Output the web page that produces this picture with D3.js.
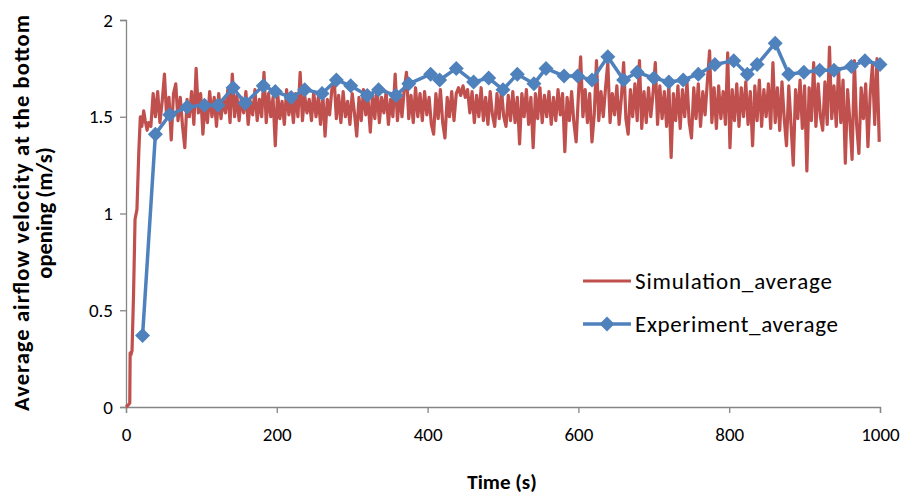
<!DOCTYPE html>
<html>
<head>
<meta charset="utf-8">
<script src="https://cdn.jsdelivr.net/npm/d3@7"></script>
<style>
  html, body { margin: 0; padding: 0; background: #ffffff; }
  svg { display: block; }
  text { font-family: Carlito, Calibri, Lato, "Open Sans", sans-serif; fill: #000; }
</style>
</head>
<body>
<svg id="chart" width="909" height="495"></svg>
<script>
// ---------- DATA ----------
const xTicks = [0, 200, 400, 600, 800, 1000];
const yTicks = [0, 0.5, 1, 1.5, 2];
const yTickLabels = ["0", "0.5", "1", "1.5", "2"];
const seriesNames = ["Simulation_average", "Experiment_average"];

// Experiment_average (time in s, velocity in m/s)
const expTime = [22, 39, 58, 81, 104, 122, 142, 158, 182, 198,
  219, 237, 260, 279, 298, 320, 335, 358, 375, 404,
  416, 438, 461, 481, 500, 519, 541, 557, 581, 599,
  618, 639, 660, 678, 700, 720, 739, 759, 781, 806,
  824, 837, 861, 879, 899, 920, 939, 962, 980, 1000];
const expValue = [0.37, 1.41, 1.51, 1.55, 1.56, 1.56, 1.65, 1.57, 1.66, 1.63,
  1.60, 1.64, 1.62, 1.69, 1.66, 1.61, 1.64, 1.61, 1.67, 1.72,
  1.69, 1.75, 1.68, 1.70, 1.64, 1.72, 1.67, 1.75, 1.71, 1.71,
  1.69, 1.81, 1.69, 1.73, 1.70, 1.68, 1.69, 1.72, 1.77, 1.79,
  1.72, 1.77, 1.88, 1.72, 1.73, 1.74, 1.74, 1.76, 1.79, 1.77];

// Simulation_average: start-up part (irregular times)
const simEarlyTime = [0, 3, 5, 5.5, 6.5, 8, 10, 12, 14.5, 17, 19, 21, 23.5, 25.5, 28, 30, 33];
const simEarlyValue = [0.00, 0.01, 0.02, 0.28, 0.27, 0.29, 0.58, 0.97, 1.02, 1.32, 1.50, 1.45, 1.53, 1.48, 1.43, 1.47, 1.45];
// Simulation_average: sampled every 3 s starting at t = 36 s
const simStart = 36, simStep = 3;
const simValue = [
  1.62, 1.50, 1.63, 1.47, 1.58, 1.72, 1.49, 1.60, 1.38, 1.62,
  1.67, 1.48, 1.60, 1.45, 1.34, 1.59, 1.50, 1.63, 1.46, 1.75,
  1.52, 1.62, 1.41, 1.58, 1.47, 1.63, 1.50, 1.60, 1.45, 1.62,
  1.49, 1.59, 1.52, 1.64, 1.47, 1.72, 1.50, 1.61, 1.48, 1.60,
  1.52, 1.63, 1.46, 1.58, 1.51, 1.64, 1.48, 1.59, 1.50, 1.73,
  1.47, 1.62, 1.50, 1.60, 1.35, 1.63, 1.49, 1.58, 1.46, 1.64,
  1.51, 1.60, 1.47, 1.62, 1.50, 1.73, 1.48, 1.61, 1.52, 1.59,
  1.48, 1.63, 1.50, 1.60, 1.46, 1.62, 1.40, 1.59, 1.51, 1.64,
  1.70, 1.49, 1.61, 1.47, 1.63, 1.50, 1.58, 1.46, 1.62, 1.52,
  1.40, 1.60, 1.48, 1.64, 1.51, 1.59, 1.42, 1.62, 1.49, 1.65,
  1.47, 1.60, 1.52, 1.63, 1.46, 1.59, 1.50, 1.72, 1.48, 1.62,
  1.50, 1.64, 1.73, 1.49, 1.61, 1.47, 1.65, 1.50, 1.62, 1.48,
  1.63, 1.51, 1.60, 1.46, 1.41, 1.62, 1.49, 1.64, 1.47, 1.39,
  1.60, 1.50, 1.63, 1.48, 1.62, 1.65, 1.61, 1.66, 1.60, 1.64,
  1.52, 1.63, 1.47, 1.61, 1.50, 1.65, 1.48, 1.60, 1.46, 1.63,
  1.51, 1.45, 1.62, 1.49, 1.64, 1.50, 1.45, 1.61, 1.48, 1.63,
  1.47, 1.60, 1.36, 1.62, 1.50, 1.64, 1.46, 1.60, 1.34, 1.62,
  1.49, 1.65, 1.47, 1.61, 1.50, 1.63, 1.46, 1.60, 1.48, 1.64,
  1.51, 1.62, 1.32, 1.60, 1.48, 1.63, 1.47, 1.37, 1.61, 1.81,
  1.50, 1.64, 1.47, 1.62, 1.37, 1.51, 1.79, 1.48, 1.63, 1.50,
  1.65, 1.78, 1.47, 1.62, 1.51, 1.66, 1.46, 1.60, 1.78, 1.49,
  1.41, 1.64, 1.50, 1.67, 1.48, 1.79, 1.44, 1.63, 1.47, 1.65,
  1.50, 1.62, 1.78, 1.46, 1.66, 1.49, 1.63, 1.45, 1.67, 1.29,
  1.62, 1.48, 1.66, 1.44, 1.64, 1.50, 1.68, 1.47, 1.39, 1.65,
  1.49, 1.67, 1.45, 1.63, 1.51, 1.68, 1.84, 1.47, 1.65, 1.44,
  1.66, 1.49, 1.63, 1.46, 1.83, 1.34, 1.64, 1.48, 1.67, 1.45,
  1.65, 1.50, 1.68, 1.46, 1.63, 1.35, 1.66, 1.48, 1.69, 1.45,
  1.64, 1.50, 1.67, 1.44, 1.78, 1.47, 1.65, 1.43, 1.68, 1.49,
  1.35, 1.66, 1.46, 1.25, 1.64, 1.49, 1.69, 1.44, 1.66, 1.22,
  1.65, 1.48, 1.78, 1.45, 1.67, 1.50, 1.43, 1.68, 1.46, 1.86,
  1.49, 1.66, 1.45, 1.75, 1.47, 1.69, 1.26, 1.64, 1.48, 1.28,
  1.79, 1.46, 1.31, 1.65, 1.49, 1.67, 1.345, 1.62, 1.77, 1.46,
  1.80, 1.37
];

// ---------- CHART ----------
const svg = d3.select("#chart");
const mLeft = 126, mRight = 880, mTop = 20, mBottom = 407;
const x = d3.scaleLinear().domain([0, 1000]).range([mLeft, mRight]);
const y = d3.scaleLinear().domain([0, 2]).range([mBottom, mTop]);

const axisColor = "#868686";
const redColor = "#C0504D";
const blueColor = "#4F81BD";

// Y axis
const yAxis = svg.append("g")
  .attr("transform", `translate(${mLeft},0)`)
  .call(d3.axisLeft(y).tickValues(yTicks).tickFormat((d, i) => yTickLabels[i]).tickSize(6).tickPadding(7));
// X axis
const xAxis = svg.append("g")
  .attr("transform", `translate(0,${mBottom})`)
  .call(d3.axisBottom(x).tickValues(xTicks).tickFormat(d3.format("d")).tickSize(6).tickPadding(15));

[yAxis, xAxis].forEach(g => {
  g.select(".domain").attr("stroke", axisColor).attr("stroke-width", 1.3);
  g.selectAll(".tick line").attr("stroke", axisColor).attr("stroke-width", 1.3);
  g.selectAll(".tick text").style("font-size", "19px").attr("fill", "#000");
});

// Simulation data
const simData = simEarlyTime.map((t, i) => [t, simEarlyValue[i]])
  .concat(simValue.map((v, i) => [simStart + i * simStep, v]));
const expData = expTime.map((t, i) => [t, expValue[i]]);

const line = d3.line().x(d => x(d[0])).y(d => y(d[1]));

svg.append("path")
  .datum(simData)
  .attr("fill", "none")
  .attr("stroke", redColor)
  .attr("stroke-width", 3.2)
  .attr("stroke-linejoin", "round")
  .attr("d", line);

svg.append("path")
  .datum(expData)
  .attr("fill", "none")
  .attr("stroke", blueColor)
  .attr("stroke-width", 3.5)
  .attr("stroke-linejoin", "round")
  .attr("d", line);

const diamond = "M0,-7.5L7.5,0L0,7.5L-7.5,0Z";
svg.append("g").selectAll("path")
  .data(expData)
  .join("path")
  .attr("d", diamond)
  .attr("transform", d => `translate(${x(d[0])},${y(d[1])})`)
  .attr("fill", blueColor);

// Legend
const legend = svg.append("g");
legend.append("line").attr("x1", 583).attr("x2", 631).attr("y1", 281).attr("y2", 281)
  .attr("stroke", redColor).attr("stroke-width", 3);
legend.append("text").attr("x", 635).attr("y", 289).style("font-size", "23px")
  .attr("textLength", 197).attr("lengthAdjust", "spacing").text(seriesNames[0]);
legend.append("line").attr("x1", 583).attr("x2", 631).attr("y1", 324).attr("y2", 324)
  .attr("stroke", blueColor).attr("stroke-width", 3.5);
legend.append("path").attr("d", diamond).attr("transform", "translate(607,324)").attr("fill", blueColor);
legend.append("text").attr("x", 635).attr("y", 332).style("font-size", "23px")
  .attr("textLength", 203).attr("lengthAdjust", "spacing").text(seriesNames[1]);

// Axis titles
svg.append("text")
  .attr("x", 502).attr("y", 489)
  .attr("text-anchor", "middle")
  .style("font-size", "21px").style("font-weight", "bold")
  .text("Time (s)");

const yt = svg.append("text")
  .attr("transform", `translate(0,213) rotate(-90)`)
  .attr("text-anchor", "middle")
  .style("font-size", "22.5px").style("font-weight", "bold");
yt.append("tspan").attr("x", 0).attr("y", 29)
  .attr("textLength", 396).attr("lengthAdjust", "spacing")
  .text("Average airflow velocity at the bottom");
yt.append("tspan").attr("x", 0).attr("y", 52).text("opening (m/s)");
</script>
</body>
</html>
